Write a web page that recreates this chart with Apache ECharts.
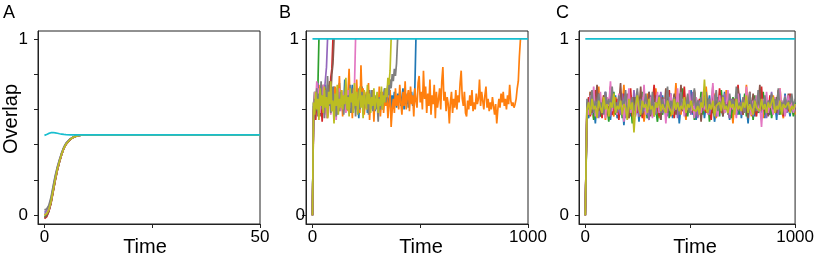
<!DOCTYPE html>
<html><head><meta charset="utf-8">
<script src="https://cdn.jsdelivr.net/npm/echarts@6/dist/echarts.min.js"></script>
<style>html,body{margin:0;padding:0;background:#fff}#chart{width:817px;height:261px}</style>
</head><body><div id="chart"></div>
<script>
// ---------- Panel A (Time 0..50) ----------
const timeA = [0,0.5,1,1.5,2,2.5,3,3.5,4,4.5,5,6,7,8,9,10,12,50];
const aBlue   = [0.01,0.015,0.035,0.08,0.145,0.21,0.265,0.31,0.35,0.383,0.405,0.432,0.447,0.453,0.455,0.456,0.456,0.456];
const aOrange = [0.0,0.008,0.03,0.075,0.14,0.205,0.262,0.308,0.348,0.381,0.404,0.431,0.446,0.452,0.455,0.456,0.456,0.456];
const aGreen  = [-0.01,0.0,0.025,0.07,0.135,0.2,0.258,0.305,0.346,0.38,0.403,0.431,0.446,0.452,0.455,0.456,0.456,0.456];
const aRed    = [-0.02,-0.01,0.02,0.065,0.13,0.196,0.255,0.303,0.344,0.379,0.402,0.43,0.446,0.452,0.455,0.456,0.456,0.456];
const aPurple = [0.02,0.025,0.045,0.09,0.155,0.218,0.27,0.314,0.353,0.385,0.407,0.433,0.447,0.453,0.455,0.456,0.456,0.456];
const aBrown  = [-0.015,-0.005,0.022,0.068,0.133,0.198,0.257,0.304,0.345,0.38,0.403,0.43,0.446,0.452,0.455,0.456,0.456,0.456];
const aPink   = [0.005,0.012,0.032,0.078,0.142,0.207,0.263,0.309,0.349,0.382,0.405,0.432,0.447,0.453,0.455,0.456,0.456,0.456];
const aGray   = [0.03,0.035,0.055,0.1,0.165,0.226,0.276,0.318,0.356,0.387,0.409,0.434,0.448,0.453,0.455,0.456,0.456,0.456];
const aOlive  = [0.0,0.008,0.03,0.075,0.14,0.205,0.262,0.308,0.348,0.381,0.404,0.431,0.446,0.452,0.455,0.456,0.456,0.456];
const aCyan   = [0.453,0.458,0.464,0.468,0.469,0.467,0.465,0.462,0.46,0.458,0.457,0.456,0.456,0.456,0.456,0.456,0.456,0.456];

// ---------- Panel B (Time 0..1000, sampled every 5) ----------
const stepB = 5;
const bBlue = [0,0.62,0.57,0.68,0.6,0.72,0.64,0.58,0.7,0.61,
0.67,0.59,0.74,0.63,0.56,0.69,0.62,0.71,0.6,0.65,
0.73,0.61,0.68,0.57,0.66,0.75,0.62,0.7,0.59,0.64,
0.77,0.63,0.69,0.6,0.72,0.58,0.66,0.74,0.61,0.67,
0.6,0.7,0.64,0.55,0.68,0.62,0.73,0.6,0.66,0.63,
0.69,0.58,0.65,0.71,0.6,0.67,0.62,0.7,0.59,0.64,
0.61,0.68,0.63,0.7,0.65,0.6,0.67,0.72,0.64,0.69,
0.62,0.66,0.71,0.6,0.68,0.63,0.7,0.65,0.61,0.69,
0.64,0.7,0.62,0.67,0.72,0.6,0.66,0.63,0.69,0.61,
0.68,0.64,0.7,0.62,0.66,0.72,1.0];
const bOrange = [0,0.6,0.66,0.58,0.7,0.63,0.74,0.6,0.68,0.57,
0.65,0.72,0.61,0.69,0.55,0.67,0.76,0.62,0.7,0.59,
0.66,0.73,0.58,0.68,0.63,0.79,0.6,0.71,0.56,0.67,
0.62,0.74,0.59,0.7,0.83,0.61,0.68,0.55,0.72,0.64,
0.6,0.77,0.63,0.69,0.58,0.85,0.66,0.72,0.57,0.64,
0.7,0.6,0.75,0.54,0.66,0.62,0.71,0.53,0.67,0.61,
0.68,0.59,0.73,0.56,0.64,0.7,0.58,0.66,0.62,0.69,
0.55,0.63,0.71,0.5,0.6,0.66,0.58,0.72,0.62,0.68,
0.6,0.74,0.64,0.57,0.7,0.62,0.76,0.6,0.67,0.71,
0.59,0.73,0.63,0.68,0.56,0.72,0.65,0.61,0.75,0.79,
0.64,0.7,0.6,0.82,0.66,0.73,0.58,0.69,0.62,0.77,
0.57,0.68,0.63,0.74,0.55,0.7,0.61,0.66,0.72,0.6,
0.76,0.84,0.65,0.7,0.59,0.67,0.63,0.52,0.64,0.7,
0.58,0.66,0.61,0.71,0.6,0.68,0.64,0.75,0.82,0.66,
0.62,0.7,0.58,0.56,0.65,0.6,0.68,0.62,0.71,0.59,
0.64,0.6,0.69,0.63,0.66,0.77,0.62,0.7,0.65,0.6,
0.68,0.73,0.61,0.66,0.59,0.64,0.6,0.67,0.62,0.57,
0.63,0.52,0.6,0.66,0.61,0.69,0.64,0.7,0.62,0.66,
0.6,0.68,0.63,0.74,0.65,0.62,0.64,0.61,0.63,0.66,
0.72,0.76,0.9,1.0];
const bGreen = [0,0.63,0.7,0.6,0.66,0.72,1.0];
const bRed = [0,0.56,0.62,0.54,0.66,0.6,0.7,0.58,0.64,0.53,0.68,0.61,0.72,0.57,0.65,0.74,0.62,0.78,0.83,1.0];
const bPurple = [0,0.64,0.58,0.7,0.61,0.75,0.57,0.67,0.62,0.73,0.66,0.7,0.77,0.84,1.0];
const bBrown = [0,0.6,0.55,0.66,0.59,0.7,0.63,0.56,0.69,0.62,0.74,0.58,0.67,0.6,0.71,0.64,0.76,0.68,0.8,0.86,1.0];
const bPink = [0,0.6,0.7,0.64,0.76,0.66,0.72,0.58,0.69,0.62,
0.74,0.6,0.67,0.55,0.7,0.63,0.68,0.57,0.65,0.71,
0.6,0.66,0.54,0.69,0.62,0.72,0.59,0.65,0.7,0.61,
0.67,0.58,0.64,0.71,0.6,0.66,0.62,0.69,0.65,0.74,
1.0];
const bGray = [0,0.58,0.66,0.61,0.72,0.56,0.69,0.63,0.76,0.6,
0.68,0.55,0.71,0.64,0.79,0.62,0.7,0.58,0.66,0.73,
0.6,0.68,0.56,0.72,0.64,0.59,0.7,0.62,0.67,0.57,
0.65,0.71,0.6,0.68,0.63,0.74,0.58,0.66,0.61,0.69,
0.56,0.67,0.62,0.72,0.6,0.65,0.7,0.58,0.64,0.68,
0.61,0.69,0.57,0.66,0.62,0.71,0.59,0.65,0.68,0.6,
0.64,0.53,0.67,0.6,0.69,0.62,0.66,0.72,0.64,0.7,
0.74,0.68,0.77,0.72,0.8,0.76,0.83,0.79,0.86,1.0];
const bOlive = [0,0.64,0.57,0.7,0.6,0.66,0.54,0.72,0.62,0.68,
0.58,0.73,0.61,0.67,0.55,0.7,0.63,0.76,0.59,0.65,
0.52,0.69,0.62,0.74,0.57,0.66,0.61,0.71,0.6,0.68,
0.63,0.78,0.6,0.67,0.56,0.72,0.64,0.69,0.58,0.75,
0.62,0.7,0.57,0.66,0.73,0.61,0.68,0.55,0.71,0.64,
0.6,0.74,0.63,0.69,0.58,0.67,0.62,0.72,0.6,0.65,
0.7,0.58,0.66,0.62,0.73,0.6,0.68,0.64,0.72,0.67,
0.78,0.74,0.82,1.0];
const bCyanTime = [0, 1000];
const bCyan = [1, 1];

// ---------- Panel C (Time 0..1000, sampled every 8) ----------
const stepC = 8;
const cBlue = [0,0.6,0.55,0.66,0.58,0.63,0.52,0.67,0.6,0.56,
0.64,0.59,0.7,0.57,0.62,0.54,0.65,0.6,0.68,0.55,
0.61,0.58,0.66,0.51,0.63,0.59,0.69,0.56,0.62,0.6,
0.57,0.65,0.53,0.67,0.61,0.58,0.64,0.55,0.7,0.6,
0.63,0.56,0.66,0.59,0.62,0.54,0.68,0.6,0.57,0.65,
0.61,0.69,0.55,0.63,0.58,0.66,0.52,0.62,0.6,0.67,
0.56,0.64,0.59,0.71,0.57,0.62,0.54,0.65,0.6,0.58,
0.66,0.55,0.63,0.61,0.68,0.57,0.64,0.53,0.6,0.67,
0.59,0.62,0.56,0.7,0.6,0.65,0.54,0.63,0.58,0.66,
0.61,0.57,0.69,0.55,0.64,0.6,0.62,0.52,0.67,0.59,
0.63,0.56,0.66,0.6,0.71,0.58,0.62,0.55,0.65,0.61,
0.57,0.68,0.6,0.64,0.54,0.66,0.59,0.63,0.57,0.69,
0.6,0.62,0.56,0.65,0.58,0.61];
const cOrange = [0,0.63,0.58,0.7,0.61,0.55,0.66,0.6,0.73,0.57,
0.62,0.68,0.54,0.64,0.59,0.71,0.6,0.56,0.67,0.62,
0.58,0.65,0.61,0.74,0.57,0.63,0.55,0.68,0.6,0.64,
0.59,0.7,0.56,0.62,0.66,0.53,0.61,0.69,0.58,0.64,
0.6,0.57,0.72,0.62,0.55,0.67,0.61,0.65,0.58,0.63,
0.69,0.56,0.62,0.6,0.75,0.59,0.64,0.57,0.66,0.61,
0.54,0.68,0.6,0.63,0.58,0.7,0.62,0.56,0.65,0.6,
0.67,0.59,0.73,0.61,0.57,0.64,0.6,0.69,0.55,0.62,
0.66,0.58,0.63,0.6,0.71,0.57,0.64,0.61,0.52,0.66,
0.6,0.68,0.62,0.58,0.65,0.6,0.74,0.59,0.63,0.56,
0.67,0.61,0.58,0.64,0.6,0.7,0.55,0.63,0.66,0.59,
0.62,0.57,0.68,0.61,0.64,0.58,0.72,0.6,0.55,0.65,
0.62,0.59,0.67,0.6,0.63,0.57];
const cGreen = [0,0.57,0.64,0.59,0.67,0.54,0.62,0.6,0.69,0.56,
0.63,0.58,0.66,0.61,0.53,0.65,0.6,0.7,0.57,0.62,
0.59,0.68,0.55,0.63,0.6,0.66,0.58,0.64,0.52,0.61,
0.67,0.59,0.63,0.56,0.7,0.6,0.62,0.55,0.65,0.61,
0.58,0.66,0.6,0.53,0.64,0.69,0.57,0.62,0.6,0.67,
0.55,0.63,0.59,0.68,0.61,0.57,0.65,0.6,0.72,0.58,
0.62,0.56,0.66,0.6,0.64,0.54,0.67,0.61,0.59,0.7,
0.57,0.63,0.6,0.66,0.53,0.62,0.58,0.68,0.6,0.64,
0.56,0.71,0.61,0.58,0.65,0.6,0.63,0.55,0.67,0.59,
0.62,0.66,0.57,0.64,0.6,0.69,0.56,0.62,0.6,0.65,
0.54,0.68,0.61,0.58,0.63,0.6,0.7,0.57,0.64,0.6,
0.66,0.55,0.62,0.59,0.67,0.61,0.57,0.65,0.6,0.63,
0.58,0.66,0.6,0.62,0.56,0.64];
const cRed = [0,0.61,0.67,0.56,0.63,0.6,0.71,0.58,0.64,0.62,
0.55,0.68,0.6,0.65,0.59,0.73,0.57,0.62,0.6,0.66,
0.54,0.64,0.61,0.69,0.58,0.63,0.6,0.72,0.56,0.65,
0.61,0.58,0.67,0.62,0.55,0.7,0.6,0.64,0.57,0.66,
0.62,0.74,0.59,0.63,0.56,0.68,0.61,0.6,0.65,0.58,
0.71,0.6,0.63,0.55,0.67,0.62,0.59,0.64,0.6,0.73,
0.57,0.65,0.61,0.58,0.69,0.6,0.63,0.56,0.66,0.62,
0.6,0.7,0.58,0.64,0.61,0.54,0.67,0.6,0.65,0.59,
0.72,0.62,0.57,0.63,0.6,0.68,0.55,0.64,0.61,0.66,
0.59,0.74,0.6,0.62,0.57,0.67,0.63,0.6,0.7,0.58,
0.64,0.61,0.56,0.66,0.6,0.73,0.59,0.63,0.62,0.57,
0.68,0.6,0.65,0.58,0.62,0.71,0.6,0.64,0.56,0.66,
0.61,0.59,0.69,0.6,0.63,0.62];
const cPurple = [0,0.59,0.62,0.66,0.57,0.64,0.6,0.68,0.55,0.63,
0.61,0.58,0.7,0.6,0.65,0.56,0.62,0.67,0.59,0.64,
0.6,0.57,0.69,0.62,0.55,0.66,0.6,0.63,0.58,0.71,
0.6,0.64,0.56,0.62,0.67,0.59,0.65,0.6,0.54,0.68,
0.61,0.63,0.57,0.66,0.6,0.7,0.58,0.62,0.64,0.56,
0.67,0.6,0.63,0.59,0.65,0.55,0.69,0.61,0.6,0.64,
0.58,0.66,0.62,0.57,0.7,0.6,0.63,0.55,0.65,0.61,
0.59,0.67,0.6,0.64,0.57,0.62,0.68,0.6,0.56,0.65,
0.61,0.63,0.58,0.69,0.6,0.62,0.55,0.66,0.6,0.64,
0.58,0.71,0.61,0.57,0.63,0.6,0.67,0.59,0.62,0.65,
0.56,0.64,0.6,0.68,0.58,0.62,0.6,0.66,0.55,0.63,
0.61,0.7,0.59,0.64,0.6,0.57,0.65,0.62,0.6,0.68,
0.58,0.63,0.6,0.66,0.59,0.62];
const cBrown = [0,0.64,0.6,0.7,0.58,0.66,0.62,0.74,0.59,0.65,
0.57,0.68,0.61,0.63,0.56,0.72,0.6,0.66,0.58,0.64,
0.62,0.75,0.59,0.63,0.6,0.69,0.55,0.65,0.61,0.67,
0.58,0.64,0.6,0.73,0.57,0.62,0.66,0.6,0.7,0.56,
0.63,0.59,0.68,0.61,0.65,0.54,0.67,0.6,0.72,0.58,
0.64,0.6,0.62,0.69,0.57,0.66,0.61,0.74,0.59,0.63,
0.56,0.67,0.6,0.65,0.58,0.71,0.62,0.6,0.64,0.53,
0.66,0.6,0.69,0.58,0.63,0.61,0.73,0.57,0.65,0.6,
0.62,0.68,0.56,0.64,0.6,0.7,0.59,0.63,0.66,0.58,
0.61,0.72,0.6,0.64,0.57,0.67,0.62,0.55,0.65,0.6,
0.69,0.58,0.63,0.61,0.74,0.59,0.64,0.6,0.66,0.56,
0.62,0.68,0.6,0.65,0.58,0.7,0.61,0.63,0.57,0.66,
0.6,0.69,0.59,0.64,0.62,0.6];
const cPink = [0,0.62,0.57,0.68,0.6,0.73,0.56,0.64,0.61,0.7,
0.58,0.63,0.55,0.67,0.62,0.76,0.59,0.65,0.6,0.57,
0.69,0.61,0.64,0.53,0.66,0.6,0.72,0.58,0.63,0.61,
0.56,0.68,0.6,0.65,0.59,0.74,0.57,0.62,0.6,0.67,
0.55,0.64,0.61,0.7,0.58,0.63,0.6,0.66,0.52,0.65,
0.61,0.69,0.57,0.64,0.6,0.72,0.58,0.62,0.66,0.56,
0.63,0.6,0.71,0.59,0.65,0.55,0.67,0.61,0.64,0.58,
0.7,0.6,0.63,0.57,0.66,0.62,0.75,0.59,0.61,0.56,
0.68,0.6,0.64,0.58,0.62,0.71,0.57,0.65,0.6,0.63,
0.55,0.69,0.61,0.6,0.66,0.58,0.73,0.6,0.62,0.57,
0.65,0.61,0.68,0.59,0.63,0.5,0.66,0.6,0.7,0.58,
0.64,0.61,0.57,0.67,0.6,0.63,0.72,0.59,0.65,0.56,
0.62,0.68,0.6,0.64,0.58,0.63];
const cGray = [0,0.66,0.6,0.63,0.71,0.58,0.65,0.61,0.69,0.6,
0.64,0.57,0.7,0.62,0.66,0.59,0.73,0.61,0.64,0.58,
0.68,0.6,0.65,0.62,0.71,0.57,0.63,0.6,0.67,0.59,
0.64,0.72,0.6,0.66,0.58,0.62,0.69,0.61,0.65,0.57,
0.7,0.6,0.64,0.62,0.68,0.58,0.66,0.61,0.63,0.73,
0.59,0.65,0.6,0.67,0.62,0.64,0.57,0.7,0.61,0.66,
0.6,0.69,0.58,0.64,0.62,0.72,0.6,0.65,0.59,0.67,
0.61,0.63,0.7,0.58,0.66,0.6,0.64,0.62,0.71,0.59,
0.65,0.61,0.68,0.6,0.63,0.57,0.69,0.62,0.66,0.6,
0.73,0.59,0.64,0.61,0.67,0.58,0.65,0.62,0.7,0.6,
0.63,0.66,0.59,0.71,0.61,0.64,0.6,0.68,0.58,0.65,
0.62,0.69,0.6,0.66,0.61,0.72,0.59,0.64,0.62,0.67,
0.6,0.65,0.63,0.69,0.61,0.66];
const cOlive = [0,0.6,0.64,0.57,0.66,0.6,0.62,0.55,0.65,0.61,
0.58,0.67,0.6,0.63,0.56,0.64,0.61,0.69,0.58,0.62,
0.6,0.65,0.57,0.63,0.61,0.54,0.66,0.6,0.64,0.47,
0.62,0.68,0.6,0.57,0.65,0.61,0.63,0.58,0.66,0.6,
0.62,0.56,0.64,0.61,0.67,0.59,0.63,0.6,0.58,0.65,
0.61,0.62,0.57,0.66,0.6,0.64,0.59,0.62,0.6,0.67,
0.58,0.63,0.61,0.65,0.6,0.6,0.59,0.62,0.57,0.64,
0.61,0.77,0.6,0.58,0.63,0.6,0.65,0.56,0.62,0.61,
0.64,0.59,0.67,0.6,0.62,0.58,0.65,0.61,0.63,0.57,
0.66,0.6,0.62,0.59,0.64,0.61,0.68,0.58,0.63,0.6,
0.57,0.65,0.61,0.62,0.59,0.66,0.6,0.63,0.58,0.64,
0.61,0.6,0.67,0.58,0.62,0.6,0.65,0.57,0.63,0.61,
0.6,0.64,0.58,0.62,0.6,0.63];
const cCyanTime = [0, 1000];
const cCyan = [1, 1];

// ---------- Axis ticks / labels ----------
const yTicks = [0,0.2,0.4,0.6,0.8,1];
const yLabels = [0,1];
const xTicksA = [0,25,50], xLabelsA = [0,50];
const xTicksBC = [0,500,1000], xLabelsBC = [0,1000];

// ---------- Build ----------
const colors = ['#1f77b4','#ff7f0e','#2ca02c','#d62728','#9467bd','#8c564b','#e377c2','#7f7f7f','#bcbd22','#17becf'];
const FONT = '"Liberation Sans", Arial, Helvetica, sans-serif';
const AXC = '#222';

const withX = (xs, ys) => ys.map((v, i) => [xs[i], v]);
const withStep = (ys, step) => ys.map((v, i) => [i * step, v]);

const panelA = [aBlue,aOrange,aGreen,aRed,aPurple,aBrown,aPink,aGray,aOlive,aCyan].map(s => withX(timeA, s));
const panelB = [bBlue,bOrange,bGreen,bRed,bPurple,bBrown,bPink,bGray,bOlive].map(s => withStep(s, stepB)).concat([withX(bCyanTime, bCyan)]);
const panelC = [cBlue,cOrange,cGreen,cRed,cPurple,cBrown,cPink,cGray,cOlive].map(s => withStep(s, stepC)).concat([withX(cCyanTime, cCyan)]);

function xAx(gi, min, max, ticks, labels) {
  return {type:'value', gridIndex:gi, min, max, position:'bottom',
    axisLine:{show:true, onZero:false, lineStyle:{color:AXC, width:1}},
    axisTick:{show:true, customValues:ticks, length:4, lineStyle:{color:AXC, width:1}},
    axisLabel:{show:true, customValues:labels, margin:5, color:'#000', fontSize:17, fontFamily:FONT, formatter:v => String(v)},
    splitLine:{show:false}};
}
function yAx(gi, labels, margin, showLine) {
  return {type:'value', gridIndex:gi, min:-0.05, max:1.045, position:'left',
    axisLine:{show:showLine, onZero:false, lineStyle:{color:AXC, width:1}},
    axisTick:{show:showLine, customValues:yTicks, length:4, lineStyle:{color:AXC, width:1}},
    axisLabel:{show:true, customValues:labels, margin, color:'#000', fontSize:17, fontFamily:FONT, formatter:v => String(v)},
    splitLine:{show:false}};
}

const series = [];
[panelA, panelB, panelC].forEach((panel, gi) => {
  panel.forEach((data, k) => {
    series.push({type:'line', xAxisIndex:gi, yAxisIndex:gi, data, showSymbol:false, symbol:'none',
      lineStyle:{color:colors[k], width:1.7}, itemStyle:{color:colors[k]}, silent:true});
  });
});

const gridBox = {show:true, borderColor:AXC, borderWidth:1, backgroundColor:'transparent'};
const txt = (text, x, y, size, extra) => ({type:'text', x, y, silent:true,
  style:Object.assign({text, fontSize:size, fontFamily:FONT, fill:'#000'}, extra || {})});

const option = {
  animation:false,
  backgroundColor:'#fff',
  grid:[
    Object.assign({left:38, top:31, width:222, height:193}, gridBox),
    Object.assign({left:306, top:31, width:222, height:193}, gridBox),
    Object.assign({left:579, top:31, width:222, height:193}, gridBox)
  ],
  xAxis:[
    xAx(0, -1.5, 50, xTicksA, xLabelsA),
    xAx(1, -30, 1000, xTicksBC, xLabelsBC),
    xAx(2, -30, 1000, xTicksBC, xLabelsBC)
  ],
  yAxis:[
    yAx(0, yLabels, 10, true),
    yAx(1, [1], 7, true),
    yAx(2, yLabels, 10, true),
    yAx(1, [0], 1, false)
  ],
  series,
  graphic:[
    txt('A', 3, 4, 18, {align:'left', verticalAlign:'top'}),
    txt('B', 279, 4, 18, {align:'left', verticalAlign:'top'}),
    txt('C', 556, 4, 18, {align:'left', verticalAlign:'top'}),
    Object.assign(txt('Overlap', 11, 119, 20, {align:'center', verticalAlign:'middle'}), {rotation:Math.PI/2}),
    txt('Time', 145, 247, 20, {align:'center', verticalAlign:'middle'}),
    txt('Time', 421, 247, 20, {align:'center', verticalAlign:'middle'}),
    txt('Time', 695, 247, 20, {align:'center', verticalAlign:'middle'})
  ]
};
const chart = echarts.init(document.getElementById('chart'), null, {renderer:'canvas'});
chart.setOption(option);
</script></body></html>
